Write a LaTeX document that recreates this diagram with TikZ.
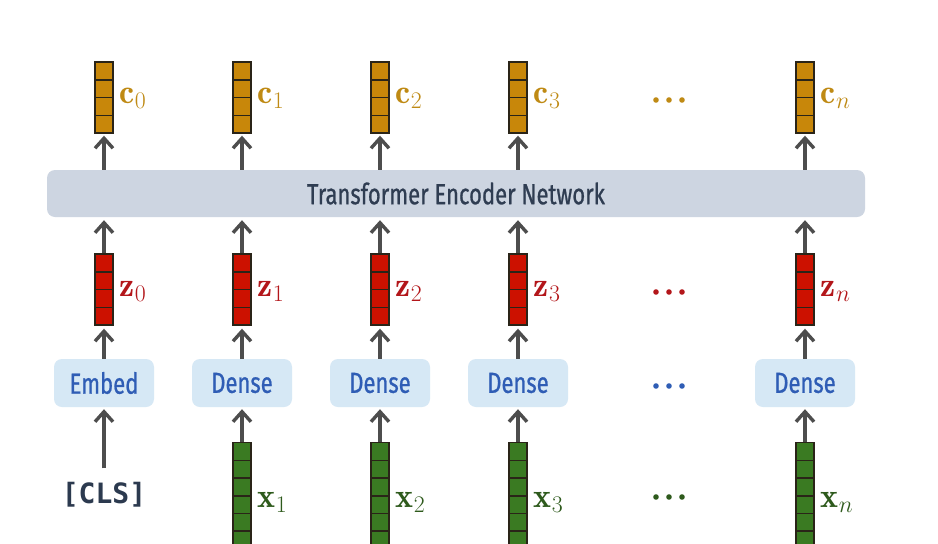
\RequirePackage{fix-cm}
\documentclass[tikz,border=0pt]{standalone}
\usepackage{fontspec}
\newfontfamily\condfont[FakeStretch=0.76,FakeBold=0.8]{Fira Sans}
\newfontfamily\clsfont{DejaVu Sans Mono}
\usetikzlibrary{arrows.meta,calc}
\definecolor{goldfill}{HTML}{C8870A}
\definecolor{goldtxt}{HTML}{BF8A14}
\definecolor{redfill}{HTML}{CC1100}
\definecolor{redtxt}{HTML}{B3161A}
\definecolor{greenfill}{HTML}{3A7A22}
\definecolor{greentxt}{HTML}{2E5A1C}
\definecolor{bluefill}{HTML}{D6E8F5}
\definecolor{bluetxt}{HTML}{2F5DB5}
\definecolor{encfill}{HTML}{CDD5E1}
\definecolor{enctxt}{HTML}{2F3D52}
\definecolor{arrcol}{HTML}{4D4D4D}
\definecolor{cellcol}{HTML}{2A2418}
\definecolor{clscol}{HTML}{2C3A4F}
\tikzset{
  cellline/.style={draw=cellcol, line width=1.5pt},
  vecbase/.style={rectangle, draw=cellcol, line width=1.4pt, inner sep=0pt,
    minimum width=18pt},
  vecfour/.style={vecbase, minimum height=71pt,
    path picture={\foreach \i in {1,2,3}{\draw[cellline]
      ($(path picture bounding box.north west)!\i/4!(path picture bounding box.south west)$) --
      ($(path picture bounding box.north east)!\i/4!(path picture bounding box.south east)$);}}},
  vecsix/.style={vecbase, minimum height=106.2pt,
    path picture={\foreach \i in {1,...,5}{\draw[cellline]
      ($(path picture bounding box.north west)!\i/6!(path picture bounding box.south west)$) --
      ($(path picture bounding box.north east)!\i/6!(path picture bounding box.south east)$);}}},
  cvec/.style={vecfour, fill=goldfill},
  zvec/.style={vecfour, fill=redfill},
  xvec/.style={vecsix, fill=greenfill},
  lab/.style={anchor=base west, inner sep=0pt, font=\fontsize{34}{36}\selectfont},
  layerbox/.style={rectangle, rounded corners=8pt, fill=bluefill, text=bluetxt,
    minimum width=100pt, minimum height=48pt, inner sep=0pt,
    font=\condfont\fontsize{29}{31}\selectfont},
  arr/.style={draw=arrcol, line width=3.4pt,
    -{Straight Barb[length=10pt, width=18pt, line width=3.4pt]}},
  dot/.style={circle, inner sep=0pt, minimum size=5.6pt},
}
\begin{document}
\begin{tikzpicture}[x=1pt, y=-1pt]
\useasboundingbox[fill=white] (0,0) rectangle (938,544);

% encoder
\node[rectangle, rounded corners=8pt, fill=encfill, minimum width=818pt,
  minimum height=47pt, inner sep=0pt, text=enctxt,
  font=\condfont\fontsize{29}{31}\selectfont] (enc) at (456,193.5)
  {Transformer Encoder Network};

% columns
\foreach \name/\xx/\sub in {0/104/0, 1/242/1, 2/380/2, 3/518/3, n/805/n}{
  \node[cvec] (c\name) at (\xx,97.5) {};
  \node[zvec] (z\name) at (\xx,289.5) {};
  \node[lab, text=goldtxt] (cl\name) at ($(c\name.east)+(6,6)$) {$\mathbf{c}_{\sub}$};
  \node[lab, text=redtxt] (zl\name) at ($(z\name.east)+(6,7)$) {$\mathbf{z}_{\sub}$};
  \draw[arr, shorten >=2pt] (c\name.south |- enc.north) -- (c\name.south);
  \draw[arr, shorten >=3pt] (z\name.north) -- (z\name.north |- enc.south);
}

% embed / dense layers
\node[layerbox] (e0) at (104,383) {Embed};
\node[layerbox] (d1) at (242,383) {Dense};
\node[layerbox] (d2) at (380,383) {Dense};
\node[layerbox] (d3) at (518,383) {Dense};
\node[layerbox] (dn) at (805,383) {Dense};

\draw[arr, shorten >=3pt] (e0.north) -- (z0.south);
\foreach \name in {1,2,3,n}{
  \draw[arr, shorten >=3pt] (d\name.north) -- (z\name.south);
}

% inputs
\node[text=clscol, font=\clsfont\bfseries\fontsize{28}{30}\selectfont, inner sep=2pt]
  (cls) at (104,495) {[CLS]};
\draw[arr, shorten <=12pt, shorten >=2pt] (cls.north) -- (e0.south);

\foreach \name/\xx in {1/242, 2/380, 3/518, n/805}{
  \node[xvec, anchor=north] (x\name) at (\xx,442) {};
  \node[lab, text=greentxt] (xl\name) at ($(x\name.north east)+(6,65)$) {$\mathbf{x}_{\name}$};
  \draw[arr, shorten >=2pt] (x\name.north) -- (d\name.south);
}

% dots
\foreach \yy/\col/\tag in {100/goldtxt/c, 292/redtxt/z, 386/bluetxt/d, 497/greentxt/x}{
  \foreach \xx/\k in {656/a, 669/b, 682/c}{
    \node[dot, fill=\col] (dot\tag\k) at (\xx,\yy) {};
  }
}
\end{tikzpicture}
\end{document}
